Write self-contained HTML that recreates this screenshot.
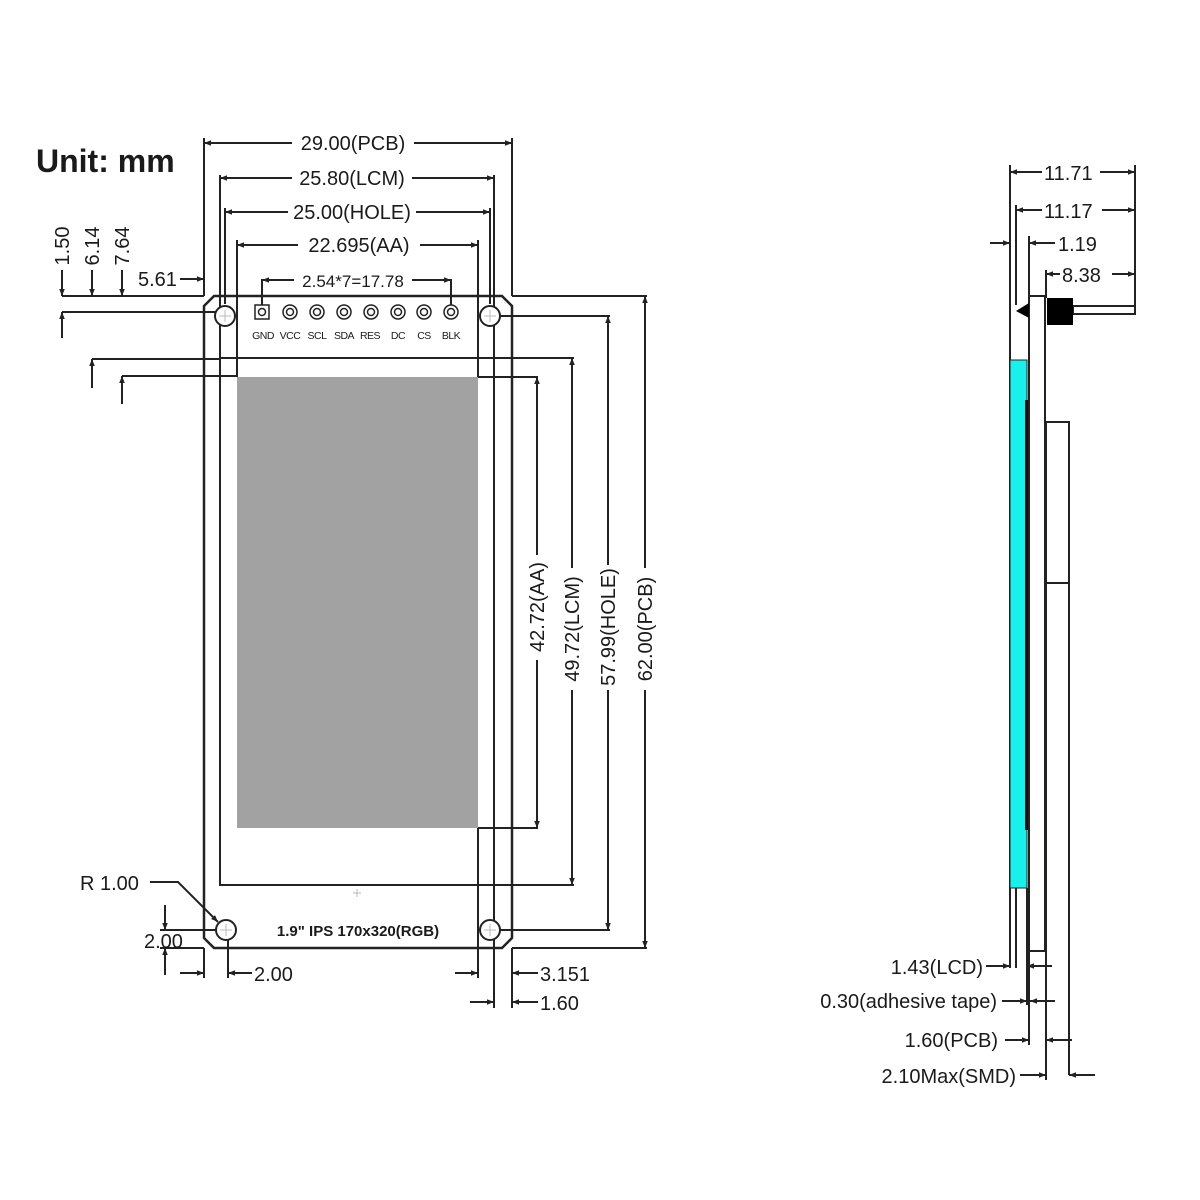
<!DOCTYPE html>
<html><head><meta charset="utf-8"><style>
html,body{margin:0;padding:0;background:#fff;}
svg{display:block;}
text{font-family:"Liberation Sans",sans-serif;fill:#1a1a1a;}
</style></head><body>
<svg width="1200" height="1200" viewBox="0 0 1200 1200" xmlns="http://www.w3.org/2000/svg">
<defs>
<marker id="a" viewBox="0 0 10 10" refX="10" refY="5" markerWidth="9" markerHeight="7" orient="auto-start-reverse" markerUnits="userSpaceOnUse"><path d="M0,1 L10,5 L0,9 Z" fill="#222"/></marker>
</defs>
<rect width="1200" height="1200" fill="#fff"/>
<text x="36" y="172" font-size="32" font-weight="bold">Unit: mm</text>

<g stroke="#222" stroke-width="2" fill="none">
<path d="M214,296 L502,296 L512,306 L512,938 L502,948 L214,948 L204,938 L204,306 Z" stroke-width="2.5"/>
<rect x="220" y="358" width="274" height="527"/>
<line x1="204" y1="138" x2="204" y2="296"/>
<line x1="512" y1="138" x2="512" y2="296"/>
<line x1="220" y1="175" x2="220" y2="358"/>
<line x1="494" y1="175" x2="494" y2="1008"/>
<line x1="225" y1="208" x2="225" y2="304"/>
<line x1="490" y1="208" x2="490" y2="304"/>
<line x1="237" y1="240" x2="237" y2="377"/>
<line x1="478" y1="240" x2="478" y2="378"/>
<line x1="478" y1="828" x2="478" y2="978"/>
<line x1="512" y1="948" x2="512" y2="1008"/>
<line x1="204" y1="948" x2="204" y2="978"/>
<line x1="228" y1="940" x2="228" y2="978"/>
<line x1="204" y1="143" x2="292" y2="143" marker-start="url(#a)"/>
<line x1="414" y1="143" x2="512" y2="143" marker-end="url(#a)"/>
<line x1="220" y1="178" x2="292" y2="178" marker-start="url(#a)"/>
<line x1="412" y1="178" x2="494" y2="178" marker-end="url(#a)"/>
<line x1="225" y1="212" x2="288" y2="212" marker-start="url(#a)"/>
<line x1="416" y1="212" x2="490" y2="212" marker-end="url(#a)"/>
<line x1="237" y1="245" x2="298" y2="245" marker-start="url(#a)"/>
<line x1="420" y1="245" x2="478" y2="245" marker-end="url(#a)"/>
<line x1="262" y1="280" x2="294" y2="280" marker-start="url(#a)"/>
<line x1="412" y1="280" x2="451" y2="280"  marker-end="url(#a)"/>
<line x1="262" y1="279" x2="262" y2="306"/>
<line x1="451" y1="279" x2="451" y2="305"/>
<line x1="62" y1="296" x2="204" y2="296"/>
<line x1="512" y1="296" x2="647" y2="296"/>
<line x1="62" y1="312" x2="216" y2="312"/>
<line x1="500" y1="316" x2="610" y2="316"/>
<line x1="92" y1="359" x2="220" y2="359"/>
<line x1="494" y1="358" x2="574" y2="358"/>
<line x1="122" y1="376" x2="237" y2="376"/>
<line x1="478" y1="377" x2="538" y2="377"/>
<line x1="478" y1="828" x2="538" y2="828"/>
<line x1="494" y1="885" x2="574" y2="885"/>
<line x1="500" y1="930" x2="610" y2="930"/>
<line x1="160" y1="948" x2="204" y2="948"/>
<line x1="512" y1="948" x2="647" y2="948"/>
<line x1="160" y1="930" x2="216" y2="930"/>
<line x1="62" y1="270" x2="62" y2="296" marker-end="url(#a)"/>
<line x1="92" y1="270" x2="92" y2="296" marker-end="url(#a)"/>
<line x1="122" y1="270" x2="122" y2="296" marker-end="url(#a)"/>
<line x1="62" y1="338" x2="62" y2="312" marker-end="url(#a)"/>
<line x1="92" y1="388" x2="92" y2="359" marker-end="url(#a)"/>
<line x1="122" y1="404" x2="122" y2="376" marker-end="url(#a)"/>
<line x1="180" y1="279" x2="204" y2="279" marker-end="url(#a)"/>
<line x1="537" y1="377" x2="537" y2="555" marker-start="url(#a)"/>
<line x1="537" y1="660" x2="537" y2="828" marker-end="url(#a)"/>
<line x1="572" y1="358" x2="572" y2="568" marker-start="url(#a)"/>
<line x1="572" y1="690" x2="572" y2="885" marker-end="url(#a)"/>
<line x1="608" y1="316" x2="608" y2="565" marker-start="url(#a)"/>
<line x1="608" y1="690" x2="608" y2="930" marker-end="url(#a)"/>
<line x1="645" y1="296" x2="645" y2="568" marker-start="url(#a)"/>
<line x1="645" y1="690" x2="645" y2="948" marker-end="url(#a)"/>
<line x1="165" y1="905" x2="165" y2="930" marker-end="url(#a)"/>
<line x1="165" y1="975" x2="165" y2="948" marker-end="url(#a)"/>
<line x1="180" y1="973" x2="204" y2="973" marker-end="url(#a)"/>
<line x1="252" y1="973" x2="228" y2="973" marker-end="url(#a)"/>
<line x1="455" y1="973" x2="478" y2="973" marker-end="url(#a)"/>
<line x1="538" y1="973" x2="512" y2="973" marker-end="url(#a)"/>
<line x1="470" y1="1002" x2="494" y2="1002" marker-end="url(#a)"/>
<line x1="538" y1="1002" x2="512" y2="1002" marker-end="url(#a)"/>
<polyline points="150,882 178,882 218,922" marker-end="url(#a)"/>
</g>

<rect x="237" y="377" width="241" height="451" fill="#a2a2a2"/>

<g stroke="#222" stroke-width="2" fill="#fff">
<circle cx="225" cy="316" r="10"/><circle cx="490" cy="316" r="10"/>
<circle cx="226" cy="930" r="10"/><circle cx="490" cy="930" r="10"/>
</g>
<g stroke="#bbb" stroke-width="1">
<path d="M219,316h12M225,310v12M484,316h12M490,310v12M220,930h12M226,924v12M484,930h12M490,924v12M353,893h8M357,889v8"/>
</g>
<g stroke="#222" stroke-width="1.5" fill="#fff">
<rect x="255" y="305" width="14" height="14"/><circle cx="262" cy="312" r="3.5"/>
<circle cx="290" cy="312" r="7"/><circle cx="290" cy="312" r="3.5"/>
<circle cx="317" cy="312" r="7"/><circle cx="317" cy="312" r="3.5"/>
<circle cx="344" cy="312" r="7"/><circle cx="344" cy="312" r="3.5"/>
<circle cx="371" cy="312" r="7"/><circle cx="371" cy="312" r="3.5"/>
<circle cx="398" cy="312" r="7"/><circle cx="398" cy="312" r="3.5"/>
<circle cx="424" cy="312" r="7"/><circle cx="424" cy="312" r="3.5"/>
<circle cx="451" cy="312" r="7"/><circle cx="451" cy="312" r="3.5"/>
</g>
<g font-size="10.5" text-anchor="middle" letter-spacing="-0.5">
<text x="263" y="339">GND</text><text x="290" y="339">VCC</text><text x="317" y="339">SCL</text>
<text x="344" y="339">SDA</text><text x="370" y="339">RES</text><text x="398" y="339">DC</text>
<text x="424" y="339">CS</text><text x="451" y="339">BLK</text>
</g>

<g font-size="20" text-anchor="middle">
<text x="353" y="150">29.00(PCB)</text>
<text x="352" y="185">25.80(LCM)</text>
<text x="352" y="219">25.00(HOLE)</text>
<text x="359" y="252">22.695(AA)</text>
</g>
<text x="353" y="287" font-size="17" text-anchor="middle">2.54*7=17.78</text>
<text x="138" y="286" font-size="20">5.61</text>
<text transform="translate(69,246) rotate(-90)" font-size="20" text-anchor="middle">1.50</text>
<text transform="translate(99,246) rotate(-90)" font-size="20" text-anchor="middle">6.14</text>
<text transform="translate(129,246) rotate(-90)" font-size="20" text-anchor="middle">7.64</text>
<text transform="translate(544,607) rotate(-90)" font-size="20" text-anchor="middle">42.72(AA)</text>
<text transform="translate(579,629) rotate(-90)" font-size="20" text-anchor="middle">49.72(LCM)</text>
<text transform="translate(615,627) rotate(-90)" font-size="20" text-anchor="middle">57.99(HOLE)</text>
<text transform="translate(652,629) rotate(-90)" font-size="20" text-anchor="middle">62.00(PCB)</text>
<text x="80" y="890" font-size="20">R 1.00</text>
<text x="144" y="948" font-size="20">2.00</text>
<text x="254" y="981" font-size="20">2.00</text>
<text x="540" y="981" font-size="20">3.151</text>
<text x="540" y="1010" font-size="20">1.60</text>
<text x="358" y="936" font-size="15" font-weight="bold" text-anchor="middle">1.9" IPS 170x320(RGB)</text>

<g stroke="#222" stroke-width="2" fill="none">
<line x1="1010" y1="165" x2="1010" y2="968"/>
<line x1="1016" y1="205" x2="1016" y2="305"/>
<line x1="1135" y1="165" x2="1135" y2="312"/>
<line x1="1010" y1="172" x2="1042" y2="172" marker-start="url(#a)"/>
<line x1="1100" y1="172" x2="1135" y2="172" marker-end="url(#a)"/>
<line x1="1016" y1="210" x2="1042" y2="210" marker-start="url(#a)"/>
<line x1="1102" y1="210" x2="1135" y2="210" marker-end="url(#a)"/>
<line x1="990" y1="243" x2="1010" y2="243" marker-end="url(#a)"/>
<line x1="1055" y1="243" x2="1029" y2="243" marker-end="url(#a)"/>
<line x1="1029" y1="236" x2="1029" y2="296"/>
<line x1="1046" y1="270" x2="1046" y2="298"/>
<line x1="1046" y1="274" x2="1060" y2="274" marker-start="url(#a)"/>
<line x1="1112" y1="274" x2="1135" y2="274" marker-end="url(#a)"/>
<rect x="1029" y="296" width="16" height="655" fill="#fff"/>
<rect x="1046" y="422" width="23" height="161"/>
<line x1="1046" y1="583" x2="1046" y2="1080"/>
<line x1="1069" y1="583" x2="1069" y2="1075"/>
<line x1="1016" y1="888" x2="1016" y2="968"/>
<line x1="1027" y1="888" x2="1027" y2="1005"/>
<line x1="1029" y1="951" x2="1029" y2="1045"/>
<rect x="1073" y="306" width="62" height="8" fill="#fff"/>
</g>
<rect x="1010" y="360" width="17" height="528" fill="#19f0ec" stroke="#222" stroke-width="1"/>
<rect x="1025" y="400" width="3" height="430" fill="#111"/>
<rect x="1047" y="298" width="26" height="27" fill="#000"/>
<path d="M1016,311 L1029,303 L1029,318 Z" fill="#000"/>
<g stroke="#222" stroke-width="2" fill="none">
<line x1="986" y1="966" x2="1010" y2="966" marker-end="url(#a)"/>
<line x1="1052" y1="966" x2="1027" y2="966" marker-end="url(#a)"/>
<line x1="1002" y1="1001" x2="1027" y2="1001" marker-end="url(#a)"/>
<line x1="1055" y1="1001" x2="1030" y2="1001" marker-end="url(#a)"/>
<line x1="1005" y1="1040" x2="1029" y2="1040" marker-end="url(#a)"/>
<line x1="1072" y1="1040" x2="1046" y2="1040" marker-end="url(#a)"/>
<line x1="1020" y1="1075" x2="1046" y2="1075" marker-end="url(#a)"/>
<line x1="1095" y1="1075" x2="1069" y2="1075" marker-end="url(#a)"/>
</g>
<g font-size="20">
<text x="1044" y="180">11.71</text>
<text x="1044" y="218">11.17</text>
<text x="1058" y="251">1.19</text>
<text x="1062" y="282">8.38</text>
</g>
<g font-size="20" text-anchor="end">
<text x="983" y="974">1.43(LCD)</text>
<text x="997" y="1008">0.30(adhesive  tape)</text>
<text x="998" y="1047">1.60(PCB)</text>
<text x="1016" y="1083">2.10Max(SMD)</text>
</g>
</svg>
</body></html>
